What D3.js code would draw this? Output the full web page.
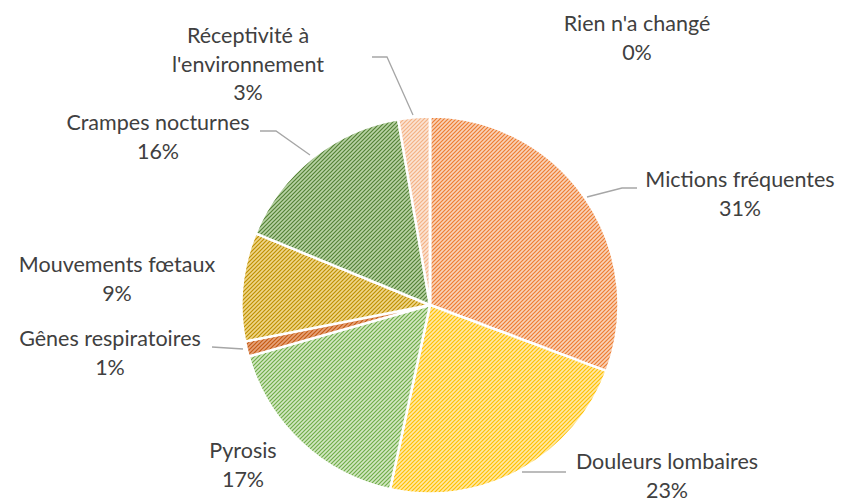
<!DOCTYPE html>
<html>
<head>
<meta charset="utf-8">
<script src="https://cdn.jsdelivr.net/npm/d3@7"></script>
<style>
  html, body { margin: 0; padding: 0; background: #fff; }
  svg { display: block; }
  text { font-family: Lato, "Open Sans", sans-serif; fill: #404040; }
</style>
</head>
<body>
<svg id="chart" width="842" height="502"></svg>
<script>
// ---- data ----
const categories = [
  "Mictions fréquentes",
  "Douleurs lombaires",
  "Pyrosis",
  "Gênes respiratoires",
  "Mouvements fœtaux",
  "Crampes nocturnes",
  "Réceptivité à l'environnement",
  "Rien n'a changé"
];
const values = [30.7, 22.7, 17.2, 1.3, 9.3, 16.1, 2.7, 0];
const labelLines = [
  ["Mictions fréquentes"],
  ["Douleurs lombaires"],
  ["Pyrosis"],
  ["Gênes respiratoires"],
  ["Mouvements fœtaux"],
  ["Crampes nocturnes"],
  ["Réceptivité à", "l'environnement"],
  ["Rien n'a changé"]
];

// ---- styles ----
const baseColors = ["#ED7D31", "#FFC000", "#70AD47", "#C55A11", "#BF9000", "#548235", "#F4B183", "#F8CBAD"];
const bgColors   = ["#F9D2B8", "#FFE9A6", "#D3E8C4", "#E6A27A", "#EFD68A", "#B9D3A6", "#FBE3D3", "#FDF0E7"];

// ---- layout (label anchor positions & leader lines, not data) ----
const labelPos = [
  {x: 740, y: 187, leader: [[587,197],[622,188],[637,188]]},
  {x: 667, y: 469, leader: [[522,472],[566,472]]},
  {x: 243, y: 458, leader: null},
  {x: 110, y: 346, leader: [[212,347],[243,349]]},
  {x: 117, y: 272, leader: null},
  {x: 158, y: 130, leader: [[260,131],[276,131],[310,155]]},
  {x: 248, y: 43,  leader: [[372,57],[387,57],[413,115]]},
  {x: 637, y: 31,  leader: null}
];

const svg = d3.select("#chart");
const cx = 430, cy = 305, R = 188.5;
const lineH = 28.5;

// patterns
const defs = svg.append("defs");
baseColors.forEach((c, i) => {
  const p = defs.append("pattern")
    .attr("id", "pat" + i)
    .attr("patternUnits", "userSpaceOnUse")
    .attr("width", 4).attr("height", 4);
  p.append("rect").attr("width", 4).attr("height", 4).attr("fill", bgColors[i]);
  p.append("path")
    .attr("d", "M-1,1 l2,-2 M0,4 l4,-4 M3,5 l2,-2")
    .attr("stroke", c).attr("stroke-width", 1.2).attr("fill", "none");
});

const pie = d3.pie().sort(null).value(d => d)
  .startAngle(0).endAngle(2 * Math.PI);
const arcs = pie(values);
const arc = d3.arc().innerRadius(0).outerRadius(R);

const g = svg.append("g").attr("transform", `translate(${cx},${cy})`);
g.selectAll("path.slice")
  .data(arcs)
  .join("path")
  .attr("class", "slice")
  .attr("d", arc)
  .attr("fill", (d, i) => `url(#pat${i})`)
  .attr("stroke", "#fff")
  .attr("stroke-width", 2.5)
  .attr("stroke-linejoin", "round");

// leader lines
const line = d3.line();
svg.selectAll("path.leader")
  .data(labelPos.filter(d => d.leader))
  .join("path")
  .attr("class", "leader")
  .attr("d", d => line(d.leader))
  .attr("fill", "none")
  .attr("stroke", "#A6A6A6")
  .attr("stroke-width", 1.3);

// labels
const fmt = v => Math.round(v) + "%";
const lbl = svg.selectAll("text.lbl")
  .data(arcs)
  .join("text")
  .attr("class", "lbl")
  .attr("text-anchor", "middle")
  .attr("font-size", 21.5)
  .attr("x", (d, i) => labelPos[i].x)
  .attr("y", (d, i) => labelPos[i].y);

lbl.each(function(d, i) {
  const t = d3.select(this);
  const lines = labelLines[i].concat([fmt(d.value)]);
  lines.forEach((s, k) => {
    t.append("tspan")
      .attr("x", labelPos[i].x)
      .attr("y", labelPos[i].y + k * lineH)
      .text(s);
  });
});
</script>
</body>
</html>
